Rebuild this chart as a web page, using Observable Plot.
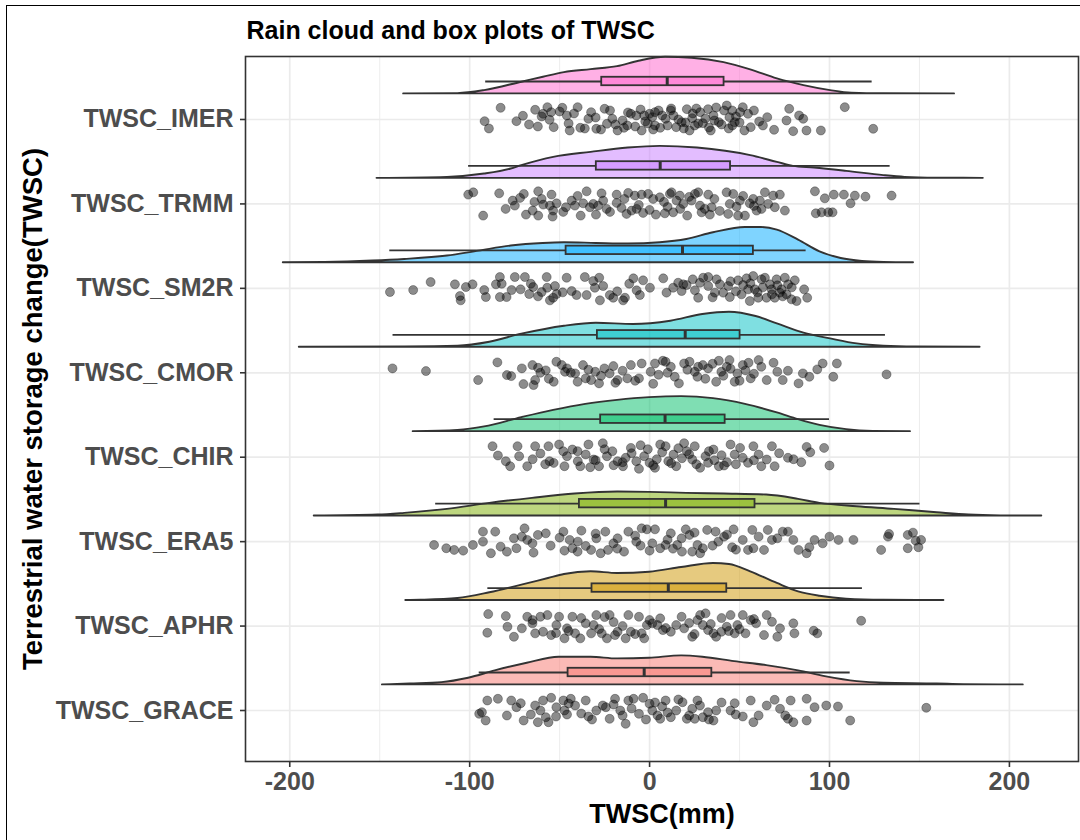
<!DOCTYPE html>
<html>
<head>
<meta charset="utf-8">
<script src="https://cdn.jsdelivr.net/npm/d3@7"></script>
<script src="https://cdn.jsdelivr.net/npm/@observablehq/plot@0.6"></script>
<style>
  html, body { margin: 0; padding: 0; background: #ffffff; }
  #wrap { position: relative; width: 1080px; height: 840px; overflow: hidden; background: #ffffff; }
  #outer { position: absolute; left: 6px; top: 5px; width: 1080px; height: 840px; border: 1.5px solid #000; box-sizing: border-box; pointer-events: none; }
</style>
</head>
<body>
<div id="wrap"><div id="outer"></div></div>
<script>
// ---------------- data ----------------
const categories = ["TWSC_GRACE", "TWSC_APHR", "TWSC_ERA5", "TWSC_CHIR", "TWSC_CMOR", "TWSC_SM2R", "TWSC_TRMM", "TWSC_IMER"];
const colors = ["#F8766D", "#CD9600", "#7CAE00", "#00BE67", "#00BFC4", "#00A9FF", "#C77CFF", "#FF61CC"];
const xTicks = [-200, -100, 0, 100, 200];
const xMinorTicks = [-150, -50, 50, 150];

// box-plot statistics (mm), same order as categories
const whiskerLow  = [-94.7, -89.9, -118.9, -86.4, -142.6, -144.4, -100.6, -91.1];
const q1          = [-45.3, -32.0, -39.0, -27.2, -29.0, -46.4, -29.6, -26.6];
const median      = [-3.0, 10.4, 8.9, 8.6, 19.8, 18.3, 5.9, 9.8];
const q3          = [34.6, 42.9, 58.6, 42.0, 50.3, 57.7, 45.0, 41.4];
const whiskerHigh = [111.5, 118.3, 150.3, 100.0, 131.1, 87.0, 133.7, 123.7];

// half-violin density profiles: [TWSC (mm), scaled density]
const densGRACE = [[-148.5,0],[-133.1,1],[-115.4,2.3],[-100.6,6.7],[-85.8,14],[-68,21.7],[-50.3,27.7],[-32.5,27.7],[-17.8,26],[0,26.7],[17.8,29],[29.6,27.7],[47.3,23.3],[65.1,19.3],[82.8,14],[97.6,8.3],[115.4,3.3],[130.2,1.7],[159.8,1],[174.6,0.3],[207.7,0]];
const densAPHR = [[-135.5,0],[-127.2,0.3],[-106.5,2],[-88.8,7.7],[-71,15.3],[-56.2,22],[-47.3,26],[-32.5,28.7],[-17.8,27],[0,28.3],[17.8,33],[35.5,37],[44.4,36],[56.2,28.7],[71,17],[82.8,8.7],[94.7,4.3],[109.5,1.3],[130.2,0.2],[163.6,0]];
const densERA5 = [[-186.4,0],[-150.9,1],[-136.1,2.7],[-112.4,6.7],[-88.8,12.7],[-65.1,17.7],[-41.4,22],[-17.8,24],[0,23.7],[20.7,22.7],[41.4,22],[65.1,21],[82.8,16.7],[94.7,12.7],[115.4,9.3],[136.1,6.7],[159.8,3.3],[177.5,1],[195.3,0.2],[218,0]];
const densCHIR = [[-131.4,0],[-106.5,1.3],[-91.7,4.7],[-71,14],[-53.3,21.3],[-35.5,27.3],[-17.8,31.3],[0,34],[17.8,35],[35.5,33],[53.3,27.3],[71,18.7],[82.8,12],[94.7,6.3],[109.5,2],[124.3,0.3],[145,0]];
const densCMOR = [[-194.7,0],[-136.1,0.3],[-106.5,1],[-88.8,5],[-71,13],[-47.3,21],[-29.6,24],[-8.9,22.7],[11.8,26],[29.6,32.7],[44.4,35],[59.2,30.7],[71,23.3],[85.8,14],[100.6,8.3],[115.4,3.3],[130.2,1],[147.9,0.2],[183.7,0]];
const densSM2R = [[-203.6,0],[-180.5,0.3],[-153.8,1.7],[-136.1,3.3],[-112.4,6.7],[-94.7,11.7],[-76.9,16.7],[-59.2,19.3],[-47.3,20],[-29.6,19.3],[-11.8,18.7],[5.9,20],[20.7,23.3],[35.5,30],[53.3,35.3],[62.1,35.3],[71,32.7],[82.8,22.7],[94.7,11],[106.5,4.3],[118.3,1.3],[130.2,0.3],[146.7,0]];
const densTRMM = [[-151.5,0],[-112.4,1],[-91.7,4.3],[-76.9,9.3],[-71,12.7],[-53.3,21],[-32.5,26],[-11.8,30.3],[5.9,32],[26.6,30.3],[56.2,22.7],[71,16],[79.9,12],[91.7,10.3],[109.5,7],[130.2,2.7],[142,1],[159.8,0.2],[185.5,0]];
const densIMER = [[-136.7,0],[-106.5,0.3],[-91.7,3.3],[-71,11.7],[-59,16.7],[-47.3,21.3],[-32.5,24.3],[-17.8,27.3],[-5.9,32.7],[8.9,36.7],[23.7,35.7],[41.4,31.3],[56.2,24],[71,15],[85.8,8.3],[100.6,3.3],[112.4,0.7],[130,0.1],[169.5,0]];

// observations: [TWSC (mm), jitter]
const ptsGRACE = [[-93.2,1.7],[-94.7,3.3],[-91.1,10],[-90.2,-10],[-84.3,-11.7],[-79.3,5],[-76.9,-10],[-74,-3.3],[-71.6,-7.3],[-63.6,-5],[-62.1,11.7],[-60.7,0],[-59.2,-10],[-57.7,6.7],[-56.2,11.7],[-54.7,-12.7],[-51.8,-3.3],[-47.9,-10],[-47.3,0],[-45.9,4],[-43.8,-11.7],[-41.4,-5],[-35.5,-10],[-34,6],[-29.6,0],[-26,-5],[-24.3,-3.3],[-22.2,8.3],[-19.2,-11.7],[-16.3,0],[-13.3,13.3],[-11.8,-10],[-8.9,-11.7],[-5.9,3.3],[-3.6,-12.7],[0,-6.7],[1.5,0],[4.4,5],[5.9,8.3],[8.9,-10],[11.8,6.7],[14.8,0],[18.3,-8.3],[20.7,8.3],[23.7,-1.7],[25.1,8.3],[26.6,-10],[29.6,6.7],[32.5,1.7],[35.5,10],[37,0],[45,0],[47.3,-7.3],[47.9,4],[51.8,6],[56.2,-10],[57.7,11.7],[60.6,5],[65.1,-5],[69.5,-10.7],[72.5,-1.7],[75.4,5],[76.9,8.3],[79.9,11.7],[78.4,-10],[87.3,-11.7],[87.3,10],[91.7,-3.3],[98.2,-5],[104.7,-4],[111.5,10],[153.8,-2.7],[-52,6],[-45,-7],[-38,3],[-32,9],[-20,-6],[-15,5],[-10,-2],[-2,9],[7,-4],[10,2],[16,-11],[22,5],[28,-5],[33,9],[40,-8],[-66,4],[-70,10],[3,-8]];
const ptsAPHR = [[-89.7,-12],[-90.2,6.7],[-79.9,-10],[-79,0.7],[-75.4,10.7],[-71,2.3],[-68,-9.3],[-65.1,-2.7],[-63.6,7.3],[-60.7,-9.3],[-59.2,5.7],[-56.8,-11],[-54.7,9],[-51.8,-1],[-50.3,-9.3],[-47.3,12.3],[-45.9,2.3],[-42.9,-9.3],[-41.4,7.3],[-38.5,12.3],[-35.5,-2.7],[-32.5,7.3],[-31.1,-1],[-29.6,-11],[-26.6,7.3],[-23.7,12.3],[-22.2,-11],[-19.2,9],[-17.8,5.7],[-13.3,12.3],[-11.8,-11],[-10.4,5.7],[-5.9,-9.3],[-4.4,7.3],[-3,12.3],[-1.5,-1],[1.5,-2.7],[4.4,-1],[5.9,-7.7],[7.4,4],[11.8,5.7],[14.8,-1],[17.8,-9.3],[19.2,2.3],[23.7,10.7],[26.6,-6],[28.1,-11],[29.6,-1],[31.1,-12.7],[32.5,4],[35.5,7.3],[37,10.7],[39.9,5.7],[42.9,0.7],[45,-11],[47.3,7.3],[48.8,-1],[51.8,-11],[53.3,7.3],[56.2,-6],[59.2,-2.7],[63.6,9],[65.1,-11],[68,-4.3],[71,10.7],[72.5,2.3],[79.9,-2.7],[80.5,7.3],[91.2,4.7],[93.2,7.3],[117.6,-5.3],[-65,-6],[-45,5],[-38,-8],[-28,3],[-20,-4],[-15,0],[-8,8],[0,-6],[9,2],[22,-3],[25,8],[34,-2],[40,-8],[44,5],[50,3],[58,-7],[-52,7],[-25,-9]];
const ptsERA5 = [[-119.8,3.3],[-113,6.6],[-108.6,8.3],[-103.6,9],[-98.2,3.3],[-92.6,-10],[-92.6,0],[-88.2,11.6],[-85.8,-10],[-82.8,5],[-79.3,10],[-75.4,-3.3],[-74,6.6],[-71,-5],[-69.5,-13.3],[-68,-1.7],[-65.1,1.7],[-64.5,11],[-62.1,-6.7],[-57.7,-8.3],[-47.9,-10],[-47.3,9],[-44.4,-1.7],[-42.9,6.6],[-39.9,0],[-37.9,-11],[-35.5,4.3],[-32.5,8.3],[-29.6,-3.3],[-27.2,11.6],[-24.6,-10],[-23.1,8.3],[-20.1,1.7],[-17.8,-3.3],[-14.2,10],[-11.8,-10],[-7.4,0],[-4.4,-13.3],[-1.5,-12.3],[1.5,1.7],[3,-12.3],[5.9,6.6],[8.9,3.3],[11.8,-8.3],[15.4,3.3],[17.8,-3.3],[20.1,-12.3],[22.2,-6.7],[23.7,10],[26.6,3.3],[28.1,11.6],[29.6,6.6],[32,-11.7],[36.7,-10],[38.2,0],[41.4,-5],[45.9,5.6],[46.7,-12.3],[51.8,-1.7],[54.7,8.3],[57.1,-11.7],[57.7,6.6],[60.6,-5],[63.6,8.3],[65.7,-11.7],[68,-1.7],[71,-3.3],[74,-10],[76.9,-10],[79.9,-1.7],[82.8,8.3],[87.3,11.6],[88.8,5.6],[91.7,-1.7],[96.2,1.7],[100,-5],[105,-1.7],[113.3,-1.7],[128.7,8.3],[132.5,-5],[133.1,-7.7],[143.5,-6.7],[143.5,6.6],[146.4,-9],[147.9,-1],[149.4,5.6],[150.9,-1.7],[-55,4],[-50,-4],[-18,7],[-8,-6],[0,9],[10,-2],[13,7],[25,-9],[35,4],[43,-7],[48,8],[-40,10],[-30,-8],[-5,4],[18,10]];
const ptsCHIR = [[-87.3,-11],[-84.3,-1.7],[-79.9,4],[-77.5,9],[-73.4,-11],[-72.5,-1],[-68,9],[-63.6,-11],[-60.7,-3.7],[-56.2,-11],[-55.6,4],[-53.3,5.7],[-50.3,-12.7],[-47.3,9],[-45.9,-1],[-42.9,-7.7],[-39.9,4],[-38.5,9],[-35.5,-2.7],[-34,-12.7],[-31.1,2.3],[-28.1,9],[-26,-14],[-23.7,-1],[-20.7,-6],[-17.8,4],[-14.8,9],[-13.3,0.6],[-10.4,-9.3],[-7.4,4],[-5.9,11.6],[-3,-1],[0,5.6],[3,10.6],[5.9,-12.7],[8.9,-11],[10.4,4],[13.3,-2.7],[14.8,9],[19.2,-14],[20.7,-6],[23.7,2.3],[25.1,-11],[28.1,10.6],[31.1,-1],[32.5,5.6],[35.5,-7.7],[38.5,9],[41.4,8.3],[45,-12.7],[47.3,-2.7],[50.3,-9.3],[51.8,0.6],[54.7,5.6],[57.7,-11],[60.6,-2.7],[62.1,9],[65.1,2.3],[68,-11],[69.5,9],[76.9,0.6],[84.3,5],[87.3,-10.3],[89.3,-5],[97,-9.3],[100,8.3],[-30,3],[-20,8],[-10,-4],[-1,-8],[4,2],[7,-5],[12,6],[16,-9],[18,1],[22,-3],[26,7],[33,-6],[36,3],[40,-2],[43,5],[-40,-6],[-25,-8],[-15,5],[2,8],[-5,-12],[-65,2],[-58,7],[-48,-6],[-33,10],[48,7],[58,3],[72,-4],[80,2]];
const ptsCMOR = [[-142.9,-4.4],[-124.3,-1.7],[-95.3,7.3],[-84.6,-10.4],[-79.3,2.3],[-76.9,3.3],[-71,-4.4],[-70.1,11.3],[-65.1,-7.7],[-63.6,7.3],[-64.5,12.3],[-60.7,0],[-57.7,-2.4],[-53.3,9],[-51.8,-11],[-48.8,-7.7],[-45.9,-4.4],[-43.8,0],[-41.4,0.6],[-37,-7.7],[-35.5,5.6],[-32.5,7.3],[-30.2,-1],[-28.1,10.6],[-25.1,-4.4],[-22.2,0.6],[-20.1,-6.7],[-17.8,7.3],[-12.4,5.6],[-10.4,-7.7],[-5.9,5.6],[-4.4,-9.3],[0.6,-1],[3,-9.3],[7.4,-12],[8.9,-11],[11.8,-6],[16.3,10.6],[19.2,-9.3],[22.2,-11],[25.1,-1],[26.6,4],[29.6,-7.7],[32.5,-4.4],[37,9],[38.5,-12],[39.9,-1],[42.9,-6],[44.4,-12.7],[47.3,9],[48.8,0.6],[51.8,-7.7],[53.3,-2.4],[56.2,5.6],[60.6,-12.7],[62.1,-6],[65.1,7.3],[68.9,-10],[71,-1],[74,7.3],[76.9,-2],[82.8,10.6],[85.2,0.6],[88.8,4],[93.2,-3.4],[96.2,-9.3],[102.1,4],[104.1,-9.3],[131.7,1.6],[-34,-3],[-27,3],[-15,-2],[-8,8],[5,2],[14,4],[21,-3],[31,6],[35,-9],[41,3],[45,-4],[50,8],[55,-10],[58,1],[-40,9],[-47,-1],[-56,6],[-62,-5],[2,11],[10,0],[27,-6],[-19,10]];
const ptsSM2R = [[-144.3,3.7],[-131.4,1.7],[-121.7,-6.3],[-108.2,-4],[-105.4,7.7],[-105,12],[-102.1,-1.3],[-98.4,-4],[-91.9,1.7],[-91,8.7],[-85.4,-4],[-83.2,-11.3],[-83.2,8.7],[-82.2,-4.6],[-79.5,8.7],[-76.7,1.7],[-74.9,-11.3],[-71.7,1],[-69.3,-11.3],[-66.9,5.7],[-66,-4.6],[-64.7,-1.3],[-60,3.7],[-57.2,-11.3],[-56.9,-0.6],[-55.4,12],[-53.6,9.4],[-52.6,-2.3],[-51.7,5.7],[-48.3,4],[-46.1,-10.6],[-43.3,2.7],[-40.6,6.7],[-36,-11.3],[-35,6.7],[-31.3,-7.3],[-30.4,-0.6],[-28,-10.6],[-27.6,12],[-25.8,-2.3],[-22.1,6.7],[-20.2,9.4],[-14.7,12],[-13.7,9.4],[-11.3,-4.6],[-7.2,2],[-5.4,6.7],[-3.6,-8],[0.2,-0.6],[7.6,-10],[9.4,4.3],[13.1,-0.6],[15.9,-5.6],[17.8,2.7],[18.7,-4],[20.6,-3.3],[25.2,2],[27,9.4],[28,-5.6],[29.8,-10.6],[32.6,-11.3],[32.6,-2.3],[36.3,4.3],[37.2,-9],[39.1,-4],[40.9,4.3],[43.7,-2.3],[44.6,8.7],[49.2,-8],[51.1,6],[52,-3.3],[53.9,-10],[54.8,1],[55.7,12.7],[57.6,-12.3],[58.5,1],[60.4,9.4],[62.2,-9],[64.1,-10.6],[65,9.4],[66.9,-4],[67.8,1],[69.6,9.4],[70.6,-9],[72.4,4.3],[73.4,1],[75.2,-10.6],[76.1,6],[77,-4],[78.9,11],[80.7,-8],[81.7,12.7],[85.9,1],[87.6,9.4],[45,-7],[48,3],[56,-5],[60,4],[63,-1],[68,6],[71,-3],[74,8],[79,-1],[35,9],[24,-9],[-9,-10],[-18,3],[-62,8]];
const ptsTRMM = [[-100.8,-9.3],[-98,-11.6],[-92.5,11.7],[-83.6,-10.6],[-76.1,-3.3],[-74.9,1.7],[-69.9,-10],[-68.7,10.7],[-65,6.7],[-61.9,-12.6],[-60,-5],[-61.9,11.7],[-59.1,0.7],[-54.5,-9.3],[-53.6,6.7],[-53.9,12.7],[-55.4,1.7],[-51.7,-0.6],[-46.5,3.3],[-43.3,-3.3],[-41.5,1.7],[-38.3,11.7],[-36.9,-0.6],[-35,-12.6],[-33.2,3.3],[-31.3,0],[-29.8,10.7],[-28.6,1.7],[-26.7,-10.6],[-25.8,-3.3],[-23.9,5],[-18.3,-9.3],[-18.3,-1],[-15.6,4],[-12.8,10],[-11.9,-11],[-10,6.7],[-8.2,-8.3],[-7.2,5],[-4.4,-9.3],[-3.6,9],[-0.8,-10],[2,-5],[3.5,10.7],[5.7,-6.6],[8.5,9.4],[11.3,-10],[12.2,-11.6],[13.1,8.4],[15,-3.3],[16.8,-8.3],[18.7,0],[20.9,11.7],[23.3,-3.3],[25.2,-10],[27,-11.6],[28,1.7],[28.9,8.4],[30.7,5],[32.6,-9.3],[33.5,10.7],[34.5,3.3],[42.8,-11.6],[43.7,10],[44.6,0],[46.5,-10],[48.3,2.7],[49.2,11.7],[50.2,-3.3],[53,11.7],[55.7,-0.6],[57.6,-5],[59.5,6.7],[61.3,-3.3],[62.2,5],[64.1,-11.6],[65.9,0],[68.7,-8.3],[69.6,3.3],[72.4,-9.3],[75.2,6.7],[91.9,-12.6],[92.4,9.4],[95.6,8.4],[97.4,-5.6],[99.3,8.4],[101.7,8.4],[102.4,-9.3],[108,-9.3],[111.7,-0.6],[114.1,-8.3],[120,-7.3],[134.5,-8.3],[-80,5],[-72,-6],[-64,-2],[-48,8],[-40,-8],[-22,8],[-14,-5],[-6,1],[0,6],[8,-2],[10,3],[17,5],[22,-7],[36,-5],[39,7],[52,-8],[58,2]];
const ptsIMER = [[-82.8,-11.7],[-91.7,1.7],[-89.3,9],[-70.4,-3.7],[-74,1.7],[-62.1,7],[-63.6,-9.7],[-59.2,-5.7],[-56.8,-12.3],[-54.7,-7.3],[-55.6,0.3],[-53.3,7.7],[-48.5,-11.7],[-46,-4],[-44.4,11],[-40,-12.3],[-38.5,8.3],[-34,-0.7],[-32.5,-7.3],[-29.6,9.3],[-25,-10.7],[-23.7,4.3],[-20.7,-0.7],[-17.8,11],[-14.2,8.3],[-12.4,6],[-10.4,-5.7],[-7.4,-4],[-4.4,11],[-2.4,2],[0,-5.7],[1.5,-2.3],[3,-7.3],[3,6],[5.9,8.3],[8.9,-0.7],[11.8,-9],[13.3,-4],[14.8,7.7],[17.8,2.7],[20.7,-10.3],[22.2,11],[23.7,-1.3],[25.1,6],[28.1,-7.3],[29.6,3.7],[32.5,-10.3],[34,11],[35.5,-4],[38.5,2.7],[41.4,-9],[42.9,-14],[44.4,-2.3],[45.9,-9],[47.3,2.7],[50.3,-7.3],[51.8,-12.3],[52.7,11],[54.7,-5.7],[56.2,7.7],[60.9,2],[65.4,-2.3],[69.2,10.3],[76.1,1],[77.6,-10.7],[79.8,11.7],[83.1,-4],[85.4,-0.7],[87.2,11],[95.2,11],[108.5,-12.3],[124.3,9.3],[-50,-8],[-45,4],[-36,9],[-30,-2],[-22,-9],[-15,1],[-8,7],[-5,-10],[-1,4],[2,10],[7,-4],[10,6],[12,-11],[16,0],[19,9],[24,-6],[27,4],[31,-1],[33,8],[37,-12],[40,5],[44,9],[48,-3],[50,3],[-60,-3],[-67,5],[-42,-6],[-27,10],[-12,-7],[5,-9],[26,-11],[36,1],[46,6],[58,-9],[63,6],[-19,5],[-3,-4],[20,3]];

const densities = [densGRACE, densAPHR, densERA5, densCHIR, densCMOR, densSM2R, densTRMM, densIMER];
const points = [ptsGRACE, ptsAPHR, ptsERA5, ptsCHIR, ptsCMOR, ptsSM2R, ptsTRMM, ptsIMER];

// ---------------- layout constants ----------------
const PX_PER_CAT = 84.43;          // jitter & density are given in pixel-like units
const VIOLIN_OFFSET = 0.303;
const BOX_OFFSET = 0.45;
const BOX_HALF = 0.05;
const FONT = "'Liberation Sans', Arial, Helvetica, sans-serif";
const LINE = "#333333";

// ---------------- tables ----------------
const violinData = [], pointData = [], boxData = [];
categories.forEach((c, i) => {
  const k = i + 1;
  densities[i].forEach(([x, d]) => violinData.push({cat: c, k, x, d}));
  points[i].forEach(([x, j]) => pointData.push({cat: c, k, x, j}));
  boxData.push({cat: c, k, lo: whiskerLow[i], q1: q1[i], med: median[i], q3: q3[i], hi: whiskerHigh[i]});
});

const chart = Plot.plot({
  width: 1080,
  height: 840,
  marginLeft: 245,
  marginRight: 2,
  marginTop: 56,
  marginBottom: 79,
  style: {fontFamily: FONT, background: "transparent", overflow: "visible"},
  x: {domain: [-224.6, 238.4]},
  y: {domain: [0.396, 8.746]},
  color: {domain: categories, range: colors},
  marks: [
    Plot.gridX(xMinorTicks, {stroke: "#ebebeb", strokeOpacity: 1, strokeWidth: 0.9}),
    Plot.gridX(xTicks, {stroke: "#ebebeb", strokeOpacity: 1, strokeWidth: 1.7}),
    Plot.gridY([1,2,3,4,5,6,7,8], {stroke: "#ebebeb", strokeOpacity: 1, strokeWidth: 1.7}),
    Plot.areaY(violinData, {
      x: "x",
      y1: d => d.k + VIOLIN_OFFSET,
      y2: d => d.k + VIOLIN_OFFSET + d.d / PX_PER_CAT,
      z: "cat", fill: "cat", fillOpacity: 0.5,
      stroke: LINE, strokeWidth: 1.9, curve: "monotone-x"
    }),
    Plot.dot(pointData, {
      x: "x", y: d => d.k - d.j / PX_PER_CAT, r: 4.5,
      fill: "#000000", fillOpacity: 0.45, stroke: "#000000", strokeOpacity: 0.35, strokeWidth: 0.9
    }),
    Plot.ruleY(boxData, {y: d => d.k + BOX_OFFSET, x1: "lo", x2: "q1", stroke: LINE, strokeWidth: 1.8}),
    Plot.ruleY(boxData, {y: d => d.k + BOX_OFFSET, x1: "q3", x2: "hi", stroke: LINE, strokeWidth: 1.8}),
    Plot.rect(boxData, {
      x1: "q1", x2: "q3",
      y1: d => d.k + BOX_OFFSET - BOX_HALF, y2: d => d.k + BOX_OFFSET + BOX_HALF,
      fill: "cat", fillOpacity: 0.5, stroke: LINE, strokeWidth: 1.8
    }),
    Plot.ruleX(boxData, {
      x: "med", y1: d => d.k + BOX_OFFSET - BOX_HALF, y2: d => d.k + BOX_OFFSET + BOX_HALF,
      stroke: LINE, strokeWidth: 3
    }),
    Plot.frame({stroke: LINE, strokeWidth: 1.6}),
    Plot.axisX({
      ticks: xTicks, tickFormat: d => String(d), tickSize: 6, tickPadding: 5,
      fontSize: 25, fontWeight: "bold", fill: "#4d4d4d", stroke: LINE, strokeWidth: 1.6, label: null
    }),
    Plot.axisY({
      ticks: [1,2,3,4,5,6,7,8], tickFormat: k => categories[k - 1], tickSize: 5, tickPadding: 7,
      fontSize: 25, fontWeight: "bold", fill: "#4d4d4d", stroke: LINE, strokeWidth: 1.6, label: null
    }),
    Plot.text(["Rain cloud and box plots of TWSC"], {
      frameAnchor: "top-left", dx: 1, dy: -26, textAnchor: "start", lineAnchor: "middle",
      fontSize: 25, fontWeight: "bold", fill: "#000000"
    }),
    Plot.text(["TWSC(mm)"], {
      frameAnchor: "bottom", dy: 53, textAnchor: "middle", lineAnchor: "middle",
      fontSize: 27, fontWeight: "bold", fill: "#000000"
    }),
    Plot.text(["Terrestrial water storage change(TWSC)"], {
      frameAnchor: "left", dx: -212, rotate: -90, textAnchor: "middle", lineAnchor: "middle",
      fontSize: 27.5, fontWeight: "bold", fill: "#000000"
    })
  ]
});
chart.style.position = "absolute";
chart.style.left = "0px";
chart.style.top = "0px";
document.getElementById("wrap").insertBefore(chart, document.getElementById("outer"));
</script>
</body>
</html>
